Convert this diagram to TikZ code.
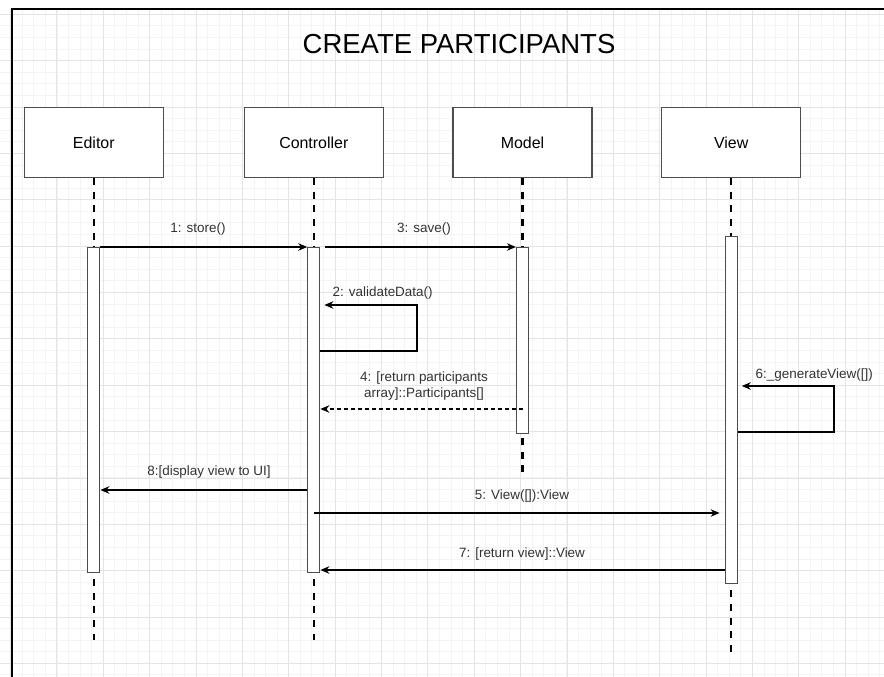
\documentclass[tikz,border=0pt]{standalone}
\usepackage{fontspec}
\setmainfont{Liberation Sans}
\usetikzlibrary{arrows.meta,calc}
\definecolor{gridminor}{HTML}{F4F4F4}
\definecolor{gridmajor}{HTML}{E4E4E4}
\definecolor{boxline}{HTML}{4D4D4D}
\definecolor{txt}{HTML}{333333}

\begin{document}
\begin{tikzpicture}[x=1bp,y=-1bp,
  actor/.style={draw=boxline,line width=1.3bp,fill=white,minimum width=139bp,
    minimum height=69.6bp,inner sep=0,font=\fontsize{16}{19}\selectfont},
  actbar/.style={draw=boxline,line width=1.2bp,fill=white,minimum width=12bp,
    inner sep=0,anchor=north},
  lifeline/.style={line width=2.4bp,dash pattern=on 7bp off 6.7bp},
  msg/.style={line width=1.2bp,-{Stealth[length=9bp,width=7.5bp]}},
  ret/.style={msg,dash pattern=on 4bp off 3bp},
  lbl/.style={font=\fontsize{13.5}{16}\selectfont,text=txt,inner sep=0},
  gminor/.style={draw=gridminor,line width=0.9bp},
  gmajor/.style={draw=gridmajor,line width=1bp}
]
\useasboundingbox[fill=white] (0,0) rectangle (884,677);

% background grid
\foreach \k in {0,...,76}
  \draw[gminor] ({-0.99+11.59*\k},9) -- ({-0.99+11.59*\k},677);
\foreach \k in {0,...,57}
  \draw[gminor] (0,{14.3+11.59*\k}) -- (884,{14.3+11.59*\k});
\foreach \k in {0,...,18}
  \draw[gmajor] ({10.6+46.37*\k},9) -- ({10.6+46.37*\k},677);
\foreach \k in {0,...,14}
  \draw[gmajor] (0,{14.3+46.37*\k}) -- (884,{14.3+46.37*\k});

% frame
\draw[line width=2.2bp] (12,677) -- (12,9) -- (884,9);

% title
\node[font=\fontsize{27.6}{32}\selectfont,inner sep=0] (title) at (459,44) {CREATE PARTICIPANTS};

% participants
\node[actor] (editor) at (93.8,142.5) {Editor};
\node[actor] (ctrl) at (313.8,142.5) {Controller};
\node[actor] (model) at (522.5,142.5) {Model};
\node[actor] (view) at (731.2,142.5) {View};

% lifeline ends
\coordinate (endE) at (93.8,640);
\coordinate (endC) at (313.8,640);
\coordinate (endM) at (522.5,478);
\coordinate (endV) at (731.2,652);

% activation bar geometry (first pass, used for the lifelines)
\path (93.8,247) node[actbar,draw=none,fill=none,minimum height=324.7bp] (barE) {}
      (313.8,247) node[actbar,draw=none,fill=none,minimum height=324.7bp] (barC) {}
      (522.5,247) node[actbar,draw=none,fill=none,minimum height=185.7bp] (barM) {}
      (731.2,236) node[actbar,draw=none,fill=none,minimum height=347bp] (barV) {};

% lifelines
\draw[lifeline] (editor.south) -- (barE.north);
\draw[lifeline] ([yshift=-6bp]barE.south) -- (endE);
\draw[lifeline] (ctrl.south) -- (barC.north);
\draw[lifeline] ([yshift=-6bp]barC.south) -- (endC);
\draw[lifeline] (model.south) -- (barM.north);
\draw[lifeline] ([yshift=-4bp]barM.south) -- (endM);
\draw[lifeline] (view.south) -- (barV.north);
\draw[lifeline] ([yshift=-6bp]barV.south) -- (endV);

% activation bars drawn above the lifelines
\node[actbar,minimum height=324.7bp] (barE) at (93.8,247) {};
\node[actbar,minimum height=324.7bp] (barC) at (313.8,247) {};
\node[actbar,minimum height=185.7bp] (barM) at (522.5,247) {};
\node[actbar,minimum height=347bp] (barV) at (731.2,236) {};

% 1: store()
\draw[msg] (barE.north east) -- (barC.north west);
\node[lbl] (l1) at (198,229) {1: store()};

% 3: save()
\draw[msg] ([xshift=5bp]barC.north east) -- (barM.north west);
\node[lbl] (l3) at (424,229) {3: save()};

% 2: validateData() (self call)
\draw[msg] (barC.east |- 0,351) -- (417,351) -- (417,305) -- ([xshift=4bp]barC.east |- 0,305);
\node[lbl,anchor=west] (l2) at (332.5,293) {2: validateData()};

% 4: return participants
\draw[ret] (barM.center |- 0,409) -- (barC.east |- 0,409);
\node[lbl,align=center] (l4) at (424,386) {4: [return participants\\array]::Participants[]};

% 6: _generateView([]) (self call)
\draw[msg] (barV.east |- 0,432) -- (834,432) -- (834,386) -- ([xshift=4bp]barV.east |- 0,386);
\node[lbl,anchor=west] (l6) at (755.5,375) {6:\_generateView([])};

% 8: display view
\draw[msg] (barC.west |- 0,490) -- (barE.east |- 0,490);
\node[lbl] (l8) at (209,472) {8:[display view to UI]};

% 5: View([]):View
\draw[msg] (barC.center |- 0,513) -- ([xshift=-5bp]barV.west |- 0,513);
\node[lbl] (l5) at (522,496) {5: View([]):View};

% 7: return view
\draw[msg] (barV.west |- 0,570) -- (barC.east |- 0,570);
\node[lbl] (l7) at (522,554) {7: [return view]::View};
\end{tikzpicture}
\end{document}
